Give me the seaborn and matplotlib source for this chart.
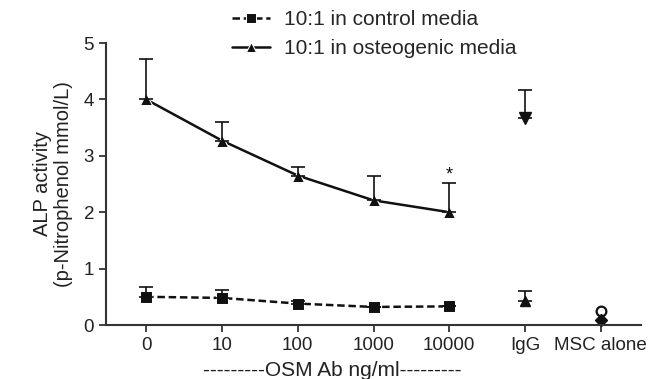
import matplotlib
matplotlib.use("Agg")
import matplotlib.pyplot as plt
import numpy as np
import pandas as pd
import seaborn as sns

# Category labels on the x axis
categories = ["0", "10", "100", "1000", "10000", "IgG", "MSC alone"]

# Dose-response series (first five categories)
doses = ["0", "10", "100", "1000", "10000"]
control_mean = [0.50, 0.48, 0.38, 0.32, 0.33]
control_upper = [0.68, 0.62, 0.42, 0.32, 0.33]
osteo_mean = [4.00, 3.27, 2.65, 2.21, 2.00]
osteo_upper = [4.71, 3.60, 2.81, 2.65, 2.52]

# IgG and MSC-alone controls
igg_osteo_mean, igg_osteo_upper = 3.67, 4.17
igg_control_mean, igg_control_upper = 0.42, 0.60
msc_open, msc_filled = 0.25, 0.08

sns.set_style("ticks")
plt.rcParams["font.family"] = ["Liberation Sans", "DejaVu Sans"]

fig = plt.figure(figsize=(6.7, 3.79), dpi=100)
ax = fig.add_axes([106 / 670, 1 - 325 / 379, (641 - 106) / 670, (325 - 43) / 379])

pos = {c: i for i, c in enumerate(categories)}
df = pd.DataFrame({
    "x": [pos[d] for d in doses] * 2,
    "y": control_mean + osteo_mean,
    "series": ["10:1 in control media"] * 5 + ["10:1 in osteogenic media"] * 5,
})

sns.lineplot(
    data=df, x="x", y="y", hue="series", style="series",
    palette=["#111111", "#111111"], dashes=[(3, 1.5), ""],
    markers=["s", "^"], markersize=8, linewidth=1.8, ax=ax,
)

xs = np.array([pos[d] for d in doses])
err_kw = dict(fmt="none", ecolor="#111111", elinewidth=1.2, capsize=5, capthick=1.2)
ax.errorbar(xs, control_mean,
            yerr=[np.zeros(5), np.array(control_upper) - np.array(control_mean)], **err_kw)
ax.errorbar(xs, osteo_mean,
            yerr=[np.zeros(5), np.array(osteo_upper) - np.array(osteo_mean)], **err_kw)

# IgG
ax.errorbar([pos["IgG"]], [igg_osteo_mean], yerr=[[0], [igg_osteo_upper - igg_osteo_mean]], **err_kw)
ax.plot([pos["IgG"]], [igg_osteo_mean], marker="v", color="#111111", markersize=8, linestyle="none")
ax.errorbar([pos["IgG"]], [igg_control_mean], yerr=[[0], [igg_control_upper - igg_control_mean]], **err_kw)
ax.plot([pos["IgG"]], [igg_control_mean], marker="^", color="#111111", markersize=7, linestyle="none")

# MSC alone
ax.plot([pos["MSC alone"]], [msc_open], marker="o", markerfacecolor="white",
        markeredgecolor="#111111", markeredgewidth=1.6, markersize=7, linestyle="none")
ax.plot([pos["MSC alone"]], [msc_filled], marker="D", color="#111111", markersize=6,
        linestyle="none", clip_on=False)

# significance star
ax.text(pos["10000"], 2.66, "*", ha="center", va="center", fontsize=13, color="#111111")

ax.set_xlim(-0.53, 6.53)
ax.set_ylim(0, 5)
ax.set_yticks([0, 1, 2, 3, 4, 5])
ax.set_xticks(range(len(categories)))
ax.set_xticklabels(categories)
ax.tick_params(axis="both", labelsize=13.5, colors="#222222", width=1.2, length=5)
ax.set_xlabel("")
ax.set_ylabel("ALP activity\n(p-Nitrophenol mmol/L)", fontsize=14.5, color="#222222",
              labelpad=8, linespacing=1.1)
for s in ["left", "bottom"]:
    ax.spines[s].set_linewidth(1.5)
    ax.spines[s].set_color("#333333")
sns.despine(ax=ax)

fig.text(332 / 670, 1 - 370 / 379, "---------OSM Ab ng/ml---------", ha="center",
         va="center", fontsize=15, color="#222222")

leg = ax.legend(loc="upper left", bbox_to_anchor=(222 / 670, 1.0), bbox_transform=fig.transFigure,
                frameon=False, fontsize=15, handlelength=1.8, borderaxespad=0.1,
                labelspacing=0.45, handletextpad=0.7, markerscale=0.85)

fig.savefig("out.png", dpi=100)
